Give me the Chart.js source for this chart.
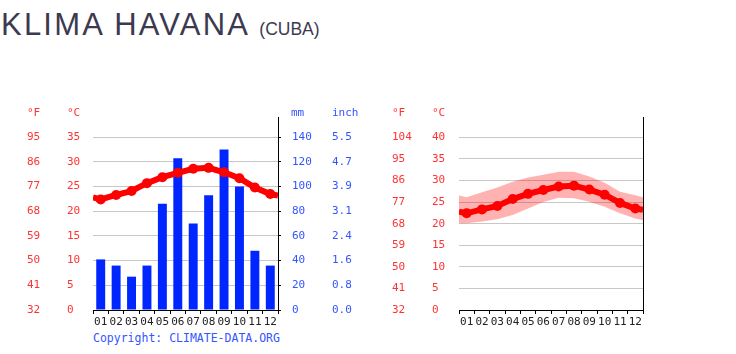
<!DOCTYPE html>
<html>
<head>
<meta charset="utf-8">
<script src="https://cdn.jsdelivr.net/npm/chart.js@4/dist/chart.umd.min.js"></script>
<style>
  html, body { margin:0; padding:0; background:#fff; }
  #wrap { position:relative; width:736px; height:354px; overflow:hidden; background:#fff; }
  canvas { position:absolute; top:0; }
  .t { position:absolute; font-family:'DejaVu Sans Mono', monospace; font-size:11px; line-height:12px; white-space:nowrap; }
  .red { color:#ff3333; }
  .blue { color:#3355ff; }
  #title { position:absolute; left:1px; top:9px; font-family:'Liberation Sans', Arial, sans-serif; font-size:31px; line-height:31px; color:#3d3a4f; white-space:nowrap; letter-spacing:2.2px; }
  #title span { font-size:17.5px; letter-spacing:0; }
</style>
</head>
<body>
<div id="wrap">
  <div id="title">KLIMA HAVANA <span>(CUBA)</span></div>
  <canvas id="c1" width="372" height="330" style="left:0px"></canvas>
  <canvas id="c2" width="364" height="330" style="left:372px"></canvas>
  <div class="t red" style="left:27px; top:107px">°F</div>
  <div class="t red" style="left:67px; top:107px">°C</div>
  <div class="t blue" style="left:291px; top:107px">mm</div>
  <div class="t blue" style="left:332px; top:107px">inch</div>
  <div class="t red" style="left:392px; top:107px">°F</div>
  <div class="t red" style="left:432px; top:107px">°C</div>
  <div class="t blue" style="left:93px; top:332px; font-size:11.5px">Copyright: CLIMATE-DATA.ORG</div>
</div>
<script>
// ---- data ----
const months = ['01','02','03','04','05','06','07','08','09','10','11','12'];
const precipMM = [41, 36, 27, 36, 86, 123, 70, 93, 130, 100, 48, 36];
const tempMean = [22.4, 23.3, 24.1, 25.7, 26.9, 27.8, 28.6, 28.8, 27.9, 26.7, 24.8, 23.5];
const tempEdges = [22.8, 23.2];       // line value at left / right plot edge
const tempHigh = [26.1, 27.3, 28.4, 29.7, 30.7, 31.3, 32.0, 32.0, 30.9, 29.5, 27.4, 26.6];
const tempHighEdges = [26.5, 26.1];
const tempLow = [20.1, 20.5, 21.0, 22.0, 23.5, 25.0, 26.0, 25.9, 25.1, 23.9, 22.4, 21.2];
const tempLowEdges = [20.1, 20.8];

// ---- helpers ----
const mono = "'DejaVu Sans Mono', monospace";
const RED = '#ff3333', BLUE = '#3355ff', GRID = '#c8c8c8';

function withEdges(vals, edges) {
  const pts = [{x: 0.5, y: edges[0]}];
  vals.forEach((v, i) => pts.push({x: i + 1, y: v}));
  pts.push({x: 12.5, y: edges[1]});
  return pts;
}
function limitTicks(lim) { return s => { s.ticks = s.ticks.filter(t => t.value <= lim + 1e-9); }; }
function fixW(w) { return s => { s.width = w; }; }

function xCat() {
  return {
    type: 'category', labels: months, offset: true, position: 'bottom',
    grid: { offset: true, drawOnChartArea: false, drawTicks: true, tickLength: 4, color: '#000' },
    border: { display: true, color: '#000', width: 1 },
    ticks: { color: '#222', font: { family: mono, size: 11 }, autoSkip: false, maxRotation: 0, minRotation: 0, padding: 2 },
    afterFit: s => { s.height = 20; }
  };
}
function xLin() {
  return { type: 'linear', min: 0.5, max: 12.5, display: false, offset: false, grid: { offset: false } };
}
function tempAxes(maxC, limC, wF, wC) {
  return {
    yF: {
      position: 'left', weight: 2, min: 0, max: maxC,
      ticks: { stepSize: 5, color: RED, font: { family: mono, size: 11 }, crossAlign: 'far', padding: 0,
               callback: v => String(Math.round(v * 1.8 + 32)) },
      grid: { display: false, drawTicks: false }, border: { display: false },
      afterBuildTicks: limitTicks(limC), afterFit: fixW(wF)
    },
    y: {
      position: 'left', weight: 1, min: 0, max: maxC,
      ticks: { stepSize: 5, color: RED, font: { family: mono, size: 11 }, crossAlign: 'far', padding: 0 },
      grid: { display: true, color: GRID, lineWidth: 1, drawTicks: false }, border: { display: false },
      afterBuildTicks: limitTicks(limC), afterFit: fixW(wC)
    }
  };
}

const common = {
  responsive: false, animation: false, devicePixelRatio: 1,
  plugins: { legend: { display: false }, tooltip: { enabled: false } },
  elements: { line: { tension: 0 } }
};

// ---- left chart: precipitation + mean temperature ----
const maxL = 39.1;
const scales1 = Object.assign({ x: xCat(), xl: xLin() }, tempAxes(maxL, 35, 40, 26), {
  yMM: {
    position: 'right', weight: 1, min: 0, max: maxL * 4,
    ticks: { stepSize: 20, color: BLUE, font: { family: mono, size: 11 }, crossAlign: 'near', padding: 11 },
    grid: { display: true, drawOnChartArea: false, drawTicks: true, tickLength: 3, color: '#000' },
    border: { display: true, color: '#000', width: 1 },
    afterBuildTicks: limitTicks(140), afterFit: fixW(54)
  },
  yIn: {
    position: 'right', weight: 2, min: 0, max: maxL * 4,
    ticks: { stepSize: 20, color: BLUE, font: { family: mono, size: 11 }, crossAlign: 'near', padding: 0,
             callback: v => (v / 25.4).toFixed(1) },
    grid: { display: false, drawTicks: false }, border: { display: false },
    afterBuildTicks: limitTicks(140), afterFit: fixW(40)
  }
});

new Chart(document.getElementById('c1'), {
  type: 'bar',
  data: {
    labels: months,
    datasets: [
      {
        type: 'line', label: '°C', data: withEdges(tempMean, tempEdges), xAxisID: 'xl', yAxisID: 'y',
        borderColor: '#ff0000', backgroundColor: '#ff0000', borderWidth: 6,
        pointRadius: c => (Number.isInteger(c.raw.x) ? 5 : 0), pointBorderWidth: 0,
        pointBackgroundColor: '#ff0000', fill: false, order: 0
      },
      {
        type: 'bar', label: 'mm', data: precipMM, xAxisID: 'x', yAxisID: 'yMM',
        backgroundColor: '#0026ff', borderWidth: 0,
        categoryPercentage: 1, barPercentage: 0.58, grouped: false, order: 1
      }
    ]
  },
  options: Object.assign({}, common, {
    layout: { padding: { left: 27, top: 117, right: 0, bottom: 0 } },
    scales: scales1
  })
});

// ---- right chart: temperature band ----
const maxR = 44.7;
const scales2 = Object.assign({ x: xCat(), xl: xLin() }, tempAxes(maxR, 40, 40, 27), {
  yR: {
    position: 'right', min: 0, max: maxR,
    ticks: { display: false },
    grid: { display: false, drawTicks: false },
    border: { display: true, color: '#000', width: 1 },
    afterFit: fixW(0)
  }
});

new Chart(document.getElementById('c2'), {
  type: 'line',
  data: {
    datasets: [
      {
        label: 'mean', data: withEdges(tempMean, tempEdges), xAxisID: 'xl', yAxisID: 'y',
        borderColor: '#ff0000', backgroundColor: '#ff0000', borderWidth: 6,
        pointRadius: c => (Number.isInteger(c.raw.x) ? 5 : 0), pointBorderWidth: 0,
        pointBackgroundColor: '#ff0000', fill: false, order: 0
      },
      {
        label: 'high', data: withEdges(tempHigh, tempHighEdges), xAxisID: 'xl', yAxisID: 'y',
        borderWidth: 0, borderColor: 'rgba(0,0,0,0)', pointRadius: 0,
        backgroundColor: 'rgba(255,0,0,0.3)', fill: '+1', order: 1
      },
      {
        label: 'low', data: withEdges(tempLow, tempLowEdges), xAxisID: 'xl', yAxisID: 'y',
        borderWidth: 0, borderColor: 'rgba(0,0,0,0)', pointRadius: 0,
        backgroundColor: 'rgba(255,0,0,0.3)', fill: false, order: 2
      }
    ]
  },
  options: Object.assign({}, common, {
    layout: { padding: { left: 20, top: 117, right: 93, bottom: 0 } },
    scales: scales2
  })
});
</script>
</body>
</html>
